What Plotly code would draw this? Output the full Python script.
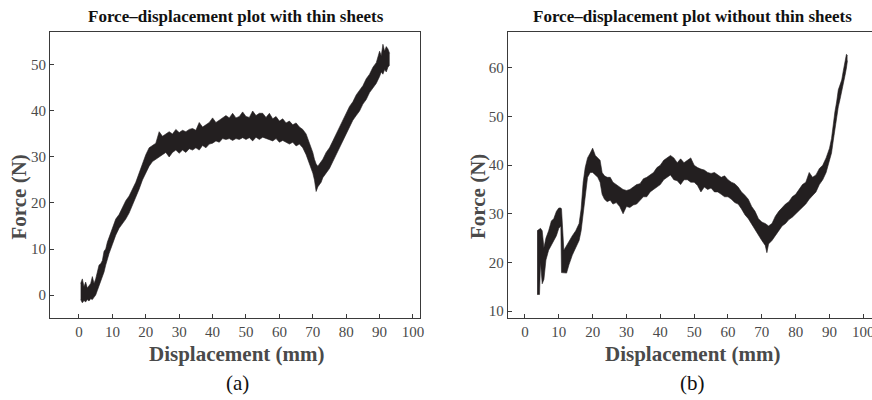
import plotly.graph_objects as go

# ---------- Data: (a) with thin sheets ----------
disp_a = [0.5, 1.0, 1.5, 2.0, 2.5, 3.0, 3.5, 4.0, 4.5, 5.0, 5.5, 6.0, 6.5, 7.0, 7.5, 8.0, 8.5, 9.0,
          10, 11, 12, 13, 14, 15, 16, 17, 18, 19, 20, 21, 22, 23, 24, 25, 26, 27, 28, 29, 30,
          31, 32, 33, 34, 35, 36, 37, 38, 39, 40, 41, 42, 43, 44, 45, 46, 47, 48, 49, 50,
          51, 52, 53, 54, 55, 56, 57, 58, 59, 60, 61, 62, 63, 64, 65, 66, 67, 68, 69, 70,
          70.5, 71.0, 71.5, 72.0, 72.5, 73, 74, 75, 76, 77, 78, 79, 80, 81, 82, 83, 84, 85,
          86, 87, 88, 89, 90, 90.5, 91.0, 91.5, 92.0, 92.5, 93.0]
force_a_lo = [-1.0, -1.7, -1.2, -1.5, -1.0, -1.3, -0.8, -1.0, -0.5, 0.0, 1.0, 2.0, 3.0, 3.8, 5.0, 6.5, 8.0, 9.0,
              11.0, 13.0, 14.5, 15.5, 16.5, 17.8, 19.5, 21.0, 23.0, 25.0, 26.5, 28.0, 29.0, 29.5, 30.0, 30.5, 31.0, 30.0, 31.0, 31.5, 30.8,
              31.5, 31.0, 31.8, 31.5, 32.0, 31.5, 32.5, 32.0, 32.8, 33.0, 33.5, 33.2, 34.0, 33.8, 34.0, 33.6, 34.0, 33.8, 34.2, 33.8,
              34.2, 33.5, 34.3, 33.8, 34.3, 34.0, 33.8, 33.5, 34.0, 33.2, 33.6, 33.2, 32.8, 33.2, 32.4, 32.8, 32.0, 30.5, 28.5, 26.5,
              25.0, 22.5, 23.5, 24.0, 24.5, 25.5, 26.5, 27.5, 29.0, 30.5, 32.0, 33.5, 35.0, 36.5, 38.0, 39.0, 40.0, 41.5,
              42.5, 44.0, 45.0, 46.0, 47.5, 48.5, 48.0, 49.0, 48.5, 49.5, 50.0]
force_a_hi = [2.5, 3.5, 1.8, 2.8, 1.5, 2.0, 2.5, 4.0, 2.5, 3.5, 5.0, 6.5, 6.8, 7.5, 9.5, 10.0, 11.5, 12.5,
              14.5, 16.5, 17.5, 19.0, 20.5, 21.5, 23.0, 24.5, 26.5, 28.5, 30.5, 32.0, 32.5, 33.0, 35.5, 34.5, 35.0, 35.5, 35.0, 36.0, 35.3,
              35.8, 35.5, 36.0, 36.2, 35.8, 37.5, 36.5, 37.0, 37.5, 38.5, 37.5, 38.0, 38.5, 39.0, 38.5, 39.5, 38.5, 38.8, 39.8, 38.8,
              38.6, 40.0, 39.0, 39.5, 39.5, 38.6, 39.5, 38.3, 38.8, 37.8, 38.3, 37.4, 37.8, 37.0, 37.4, 36.5, 36.0, 35.0, 33.0, 31.0,
              29.5, 28.5, 28.0, 28.5, 29.0, 29.5, 31.0, 32.0, 33.5, 35.0, 36.5, 38.0, 39.5, 41.0, 42.0, 43.5, 44.5, 45.5,
              47.0, 48.0, 49.5, 50.5, 53.0, 52.0, 54.5, 53.0, 54.0, 53.5, 52.5]

# ---------- Data: (b) without thin sheets ----------
disp_b = [3.6, 4.3, 4.6, 5.1, 5.6, 6.2, 7.0, 7.8, 8.5, 9.3, 10.0, 10.6, 10.8, 11.5, 12.3, 13.0, 14.0, 15.0,
          16.0, 16.6, 17.2, 17.8, 18.5, 19.3, 20.0, 20.8, 21.5, 22.2, 22.8, 23.5, 24.3, 25.2, 26, 27, 28, 29, 30,
          31, 32, 33, 34, 35, 36, 37, 38, 39, 40, 41, 42, 43, 44, 45, 46, 47, 48, 49, 50,
          51, 52, 53, 54, 55, 56, 57, 58, 59, 60, 61, 62, 63, 64, 65, 66, 67, 68, 69, 70,
          71, 71.5, 72, 73, 74, 75, 76, 77, 78, 79, 80, 81, 82, 83, 84, 85, 86, 87, 88, 89, 90,
          90.6, 91.1, 91.6, 92.1, 92.6, 93.1, 93.6, 94.1, 94.6, 95.0, 95.3]
force_b_lo = [13.4, 13.4, 20.0, 15.6, 16.5, 20.5, 22.5, 23.5, 24.5, 25.5, 27.0, 27.5, 17.9, 17.8, 17.8, 19.5, 21.5, 23.0,
              24.5, 26.5, 30.0, 34.5, 37.5, 38.5, 38.5, 38.0, 37.5, 36.5, 34.0, 33.0, 32.5, 32.8, 32.0, 32.3, 31.5, 30.0, 31.5,
              31.3, 31.8, 32.0, 32.8, 33.5, 33.5, 34.5, 35.0, 35.5, 36.0, 37.0, 37.5, 38.0, 37.0, 36.8, 36.0, 37.0, 37.0, 36.5, 36.5,
              35.8, 34.5, 35.5, 35.0, 35.3, 34.5, 34.5, 34.0, 33.5, 33.5, 33.0, 32.3, 32.0, 31.0, 29.8, 29.0, 27.8, 26.8, 25.5, 24.5,
              23.5, 22.0, 23.8, 24.5, 25.5, 26.5, 27.5, 28.0, 28.8, 29.3, 30.0, 30.8, 31.5, 32.0, 33.0, 33.8, 34.5, 36.0, 37.0, 38.5, 41.0,
              42.5, 45.0, 47.5, 50.0, 52.0, 53.5, 55.0, 56.5, 58.5, 60.0, 61.5]
force_b_hi = [26.5, 26.8, 27.0, 26.5, 23.0, 25.0, 26.5, 28.5, 29.0, 30.5, 31.2, 31.2, 31.0, 22.5, 23.5, 24.5, 25.5, 26.5,
              28.0, 31.0, 36.5, 39.5, 41.5, 42.5, 43.5, 42.0, 41.5, 41.0, 38.5, 37.8, 37.5, 37.5, 36.5, 36.0, 35.5, 35.0, 34.8,
              35.0, 35.5, 36.0, 36.2, 37.2, 37.5, 38.0, 38.5, 39.5, 40.0, 41.0, 41.5, 42.0, 41.5, 40.5, 41.3, 40.5, 41.0, 41.5, 40.0,
              39.5, 39.2, 39.0, 38.5, 38.3, 38.5, 38.0, 37.5, 37.8, 37.0, 36.5, 36.2, 35.5, 34.5, 33.8, 33.0, 31.5, 30.5, 29.0, 28.3,
              28.0, 27.8, 27.5, 28.0, 29.5, 30.5, 31.3, 32.0, 32.5, 33.5, 34.0, 35.0, 36.0, 36.5, 38.5, 37.5, 38.0, 39.3, 40.0, 41.5, 43.5,
              45.5, 48.5, 51.0, 53.0, 55.5, 56.5, 57.5, 59.5, 61.0, 62.8, 62.6]

x_ticks = [0, 10, 20, 30, 40, 50, 60, 70, 80, 90, 100]
y_ticks_a = [0, 10, 20, 30, 40, 50]
y_ticks_b = [10, 20, 30, 40, 50, 60]

titles = ["Force\u2013displacement plot with thin sheets", "Force\u2013displacement plot without thin sheets"]
panel_labels = ["(a)", "(b)"]
x_title = "Displacement (mm)"
y_title = "Force (N)"

BAND = "#231f20"
AX = "#3a3a3a"
TXT = "#4a4a4a"
W, H = 872, 400
SERIF = "Liberation Serif"


def px(v):
    return v / W


def yp(pix):
    return 1 - pix / H


fig = go.Figure()
for xs, lo, hi, xa, ya in [(disp_a, force_a_lo, force_a_hi, "x", "y"),
                           (disp_b, force_b_lo, force_b_hi, "x2", "y2")]:
    fig.add_trace(go.Scatter(x=xs, y=lo, mode="lines", line=dict(color=BAND, width=0.6),
                             xaxis=xa, yaxis=ya, showlegend=False, hoverinfo="skip"))
    fig.add_trace(go.Scatter(x=xs, y=hi, mode="lines", line=dict(color=BAND, width=0.6),
                             fill="tonexty", fillcolor=BAND,
                             xaxis=xa, yaxis=ya, showlegend=False, hoverinfo="skip"))

axis_common = dict(showgrid=False, zeroline=False, showline=True, linecolor=AX, linewidth=1,
                   ticks="inside", ticklen=4, tickcolor=AX, tickwidth=1, automargin=False,
                   ticklabeloverflow="allow",
                   tickfont=dict(family=SERIF, size=15, color=TXT))

ydom = [yp(318), yp(32)]
fig.update_layout(
    width=W, height=H,
    margin=dict(l=0, r=0, t=0, b=0, pad=0),
    paper_bgcolor="white", plot_bgcolor="white",
    xaxis=dict(domain=[px(50), px(420)], range=[-8.68, 102.1], tickvals=x_ticks, anchor="y", mirror=True, **axis_common),
    yaxis=dict(domain=ydom, range=[-5.0, 57.17], tickvals=y_ticks_a, anchor="x", mirror=True, **axis_common),
    xaxis2=dict(domain=[px(507.7), 1.0], range=[-5.1, 102.56], tickvals=x_ticks, anchor="y2", mirror=True, **axis_common),
    yaxis2=dict(domain=ydom, range=[8.56, 67.4], tickvals=y_ticks_b, anchor="x2", mirror=False, **axis_common),
)

annots = []
for i, (cx, ylx) in enumerate([(235.5, 18.5), (692.7, 478)]):
    annots.append(dict(text="<b>%s</b>" % titles[i], x=px(cx), y=yp(16), xref="paper", yref="paper",
                       showarrow=False, xanchor="center", yanchor="middle",
                       font=dict(family=SERIF, size=17, color="#111")))
    annots.append(dict(text="<b>%s</b>" % x_title, x=px(cx + (1.5 if i == 0 else 0)), y=yp(354), xref="paper", yref="paper",
                       showarrow=False, xanchor="center", yanchor="middle",
                       font=dict(family=SERIF, size=21, color=TXT)))
    annots.append(dict(text=panel_labels[i], x=px(cx + (2.5 if i == 0 else 0)), y=yp(383), xref="paper", yref="paper",
                       showarrow=False, xanchor="center", yanchor="middle",
                       font=dict(family=SERIF, size=21, color="#111")))
    annots.append(dict(text="<b>%s</b>" % y_title, x=px(ylx), y=yp(197), xref="paper", yref="paper",
                       showarrow=False, xanchor="center", yanchor="middle", textangle=-90,
                       font=dict(family=SERIF, size=21, color=TXT)))
fig.update_layout(annotations=annots)

fig.write_html("out.html", config={"displayModeBar": False},
               post_script="document.body.style.margin='0';")
